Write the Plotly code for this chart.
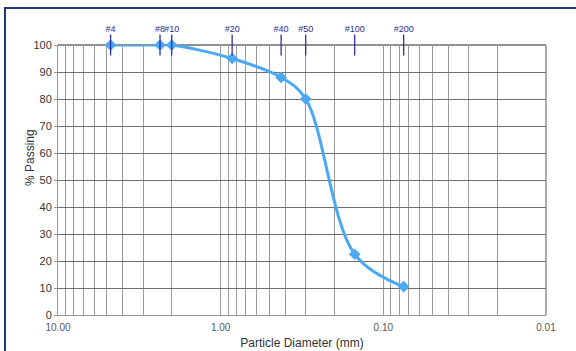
import plotly.graph_objects as go

# Data
sieve_labels = ["#4", "#8", "#10", "#20", "#40", "#50", "#100", "#200"]
sieve_sizes = [4.75, 2.36, 2.0, 0.85, 0.425, 0.3, 0.15, 0.075]
percent_passing = [100, 100, 100, 95, 88, 80, 22.5, 10.5]
x_major_vals = [10, 1, 0.1, 0.01]
x_major_text = ["10.00", "1.00", "0.10", "0.01"]

W, H = 576, 351
L, R, T, B = 58, 30, 45, 36
pw, ph = W - L - R, H - T - B

def px_x(p):
    return (p - L) / pw

def px_y(p):
    return (H - B - p) / ph

# gridline positions (all 1..9 multiples in each decade)
grid_vals = []
for dec in [0.01, 0.1, 1]:
    for m in range(1, 10):
        grid_vals.append(round(m * dec, 4))
grid_vals.append(10)
grid_text = [x_major_text[x_major_vals.index(v)] if v in x_major_vals else "" for v in grid_vals]

fig = go.Figure()

fig.add_trace(go.Scatter(
    x=sieve_sizes, y=percent_passing, mode="lines+markers",
    line=dict(color="#4aa8f5", width=3, shape="spline", smoothing=1.0),
    marker=dict(symbol="diamond", size=9, color="#4aa8f5"),
    cliponaxis=False, showlegend=False, hoverinfo="skip",
))

fig.add_trace(go.Scatter(
    x=sieve_sizes, y=[100] * len(sieve_sizes), mode="markers+text",
    text=sieve_labels, textposition="top center",
    textfont=dict(size=9, color="#2b2b9a", family="Liberation Sans"),
    marker=dict(symbol="line-ns", size=15, line=dict(color="#3030a8", width=1.3)),
    cliponaxis=False, showlegend=False, hoverinfo="skip",
))

fig.update_layout(
    width=W, height=H,
    margin=dict(l=L, r=R, t=T, b=B, autoexpand=False),
    paper_bgcolor="white", plot_bgcolor="white",
    font=dict(family="Liberation Sans", color="#333"),
    xaxis=dict(
        type="log", range=[1, -2], tickvals=grid_vals, ticktext=grid_text,
        showgrid=True, gridcolor="#9a9a9a", gridwidth=1,
        ticks="", tickfont=dict(size=10, color="#555"), ticklabelstandoff=3,
        showline=True, linecolor="#999", linewidth=1, mirror=False,
        zeroline=False, automargin=False,
        title=dict(text="Particle Diameter (mm)", font=dict(size=12, color="#333"), standoff=6),
    ),
    yaxis=dict(
        range=[0, 100], dtick=10, showgrid=True, gridcolor="#6e6e6e", gridwidth=1,
        ticks="outside", ticklen=3, tickcolor="#999",
        tickfont=dict(size=11, color="#333"),
        showline=True, linecolor="#999", linewidth=1, zeroline=False, automargin=False,
    ),
    shapes=[
        # top axis border (black)
        dict(type="line", xref="paper", yref="paper", x0=0, x1=1, y0=1, y1=1,
             line=dict(color="#222", width=1.2), layer="below"),
        # right border (grey)
        dict(type="line", xref="paper", yref="paper", x0=1, x1=1, y0=0, y1=1,
             line=dict(color="#aaa", width=2), layer="below"),
        # outer navy frame (top and left)
        dict(type="line", xref="paper", yref="paper", x0=px_x(4), x1=px_x(W + 5),
             y0=px_y(8), y1=px_y(8), line=dict(color="#1f3a7a", width=2)),
        dict(type="line", xref="paper", yref="paper", x0=px_x(5), x1=px_x(5),
             y0=px_y(8), y1=px_y(H + 5), line=dict(color="#1f3a7a", width=2)),
    ],
    annotations=[
        dict(text="% Passing", xref="paper", yref="paper", x=px_x(30), y=px_y(158),
             showarrow=False, textangle=-90, font=dict(size=12, color="#333"),
             xanchor="center", yanchor="middle"),
    ],
)

fig.write_html("out.html")
